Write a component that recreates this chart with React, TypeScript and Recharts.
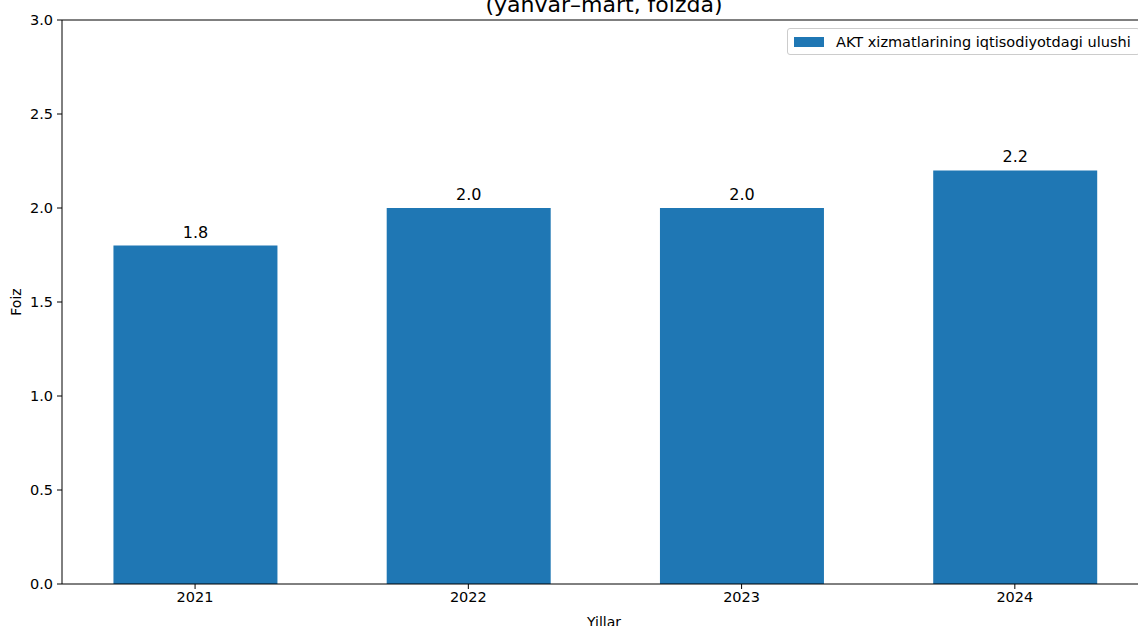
import React from 'react';
import { BarChart, Bar, XAxis, YAxis, Legend, LabelList, ReferenceLine } from 'recharts';

const years = ['2021', '2022', '2023', '2024'];
const shares = [1.8, 2.0, 2.0, 2.2];
const yTicks = [0, 0.5, 1.0, 1.5, 2.0, 2.5, 3.0];
const seriesName = 'AKT xizmatlarining iqtisodiyotdagi ulushi';

const FONT = '"DejaVu Sans", sans-serif';
const BLUE = '#1f77b4';

const data = years.map((year, i) => ({ idx: i, year, value: shares[i] }));

const LegendBox = () => (
  <div
    style={{
      display: 'flex',
      alignItems: 'center',
      border: '1px solid #cccccc',
      borderRadius: 3,
      background: 'rgba(255,255,255,0.8)',
      height: 25,
      padding: '0 8px 0 6px',
      fontFamily: FONT,
      fontSize: 14.5,
      color: '#000',
      whiteSpace: 'nowrap',
    }}
  >
    <span style={{ display: 'inline-block', width: 30, height: 10, background: BLUE, marginRight: 12 }} />
    {seriesName}
  </div>
);

export default function App() {
  return (
    <div
      style={{
        position: 'absolute',
        top: 0,
        left: 0,
        width: 1138,
        height: 626,
        overflow: 'hidden',
        background: '#fff',
        fontFamily: FONT,
      }}
    >
      <div
        style={{
          position: 'absolute',
          top: -8,
          left: 0,
          width: 1208,
          textAlign: 'center',
          fontSize: 22,
          lineHeight: '26px',
          color: '#000',
        }}
      >
        (yanvar–mart, foizda)
      </div>
      <div
        style={{
          position: 'absolute',
          left: 16,
          top: 302,
          transform: 'translate(-50%, -50%) rotate(-90deg)',
          fontSize: 14,
          color: '#000',
        }}
      >
        Foiz
      </div>
      <BarChart
        width={1160}
        height={626}
        data={data}
        margin={{ top: 20, right: 14, bottom: 0, left: 0 }}
      >
        <XAxis
          dataKey="idx"
          type="number"
          domain={[-0.487, 3.48]}
          ticks={[0, 1, 2, 3]}
          allowDataOverflow
          tickFormatter={(v: number) => years[v] ?? ''}
          height={42}
          tickSize={5}
          tickMargin={3}
          stroke="#000"
          tick={{ fill: '#000', fontSize: 14.5, fontFamily: FONT }}
          label={{ value: 'Yillar', position: 'insideBottom', offset: -1, fill: '#000', fontSize: 14, fontFamily: FONT }}
        />
        <YAxis
          type="number"
          domain={[0, 3]}
          ticks={yTicks}
          width={62}
          tickSize={5}
          tickMargin={4}
          stroke="#000"
          tickFormatter={(v: number) => v.toFixed(1)}
          tick={{ fill: '#000', fontSize: 14.5, fontFamily: FONT }}
        />
        <ReferenceLine y={3} stroke="#000" strokeWidth={1} ifOverflow="extendDomain" />
        <Legend
          layout="horizontal"
          verticalAlign="middle"
          align="center"
          content={() => <LegendBox />}
          wrapperStyle={{ top: 28, left: 787, width: 'auto', height: 'auto' }}
        />
        <Bar dataKey="value" name={seriesName} fill={BLUE} barSize={164} isAnimationActive={false}>
          <LabelList
            dataKey="value"
            position="top"
            offset={8}
            formatter={(v: number) => v.toFixed(1)}
            style={{ fill: '#000', fontSize: 16, fontFamily: FONT }}
          />
        </Bar>
      </BarChart>
    </div>
  );
}
